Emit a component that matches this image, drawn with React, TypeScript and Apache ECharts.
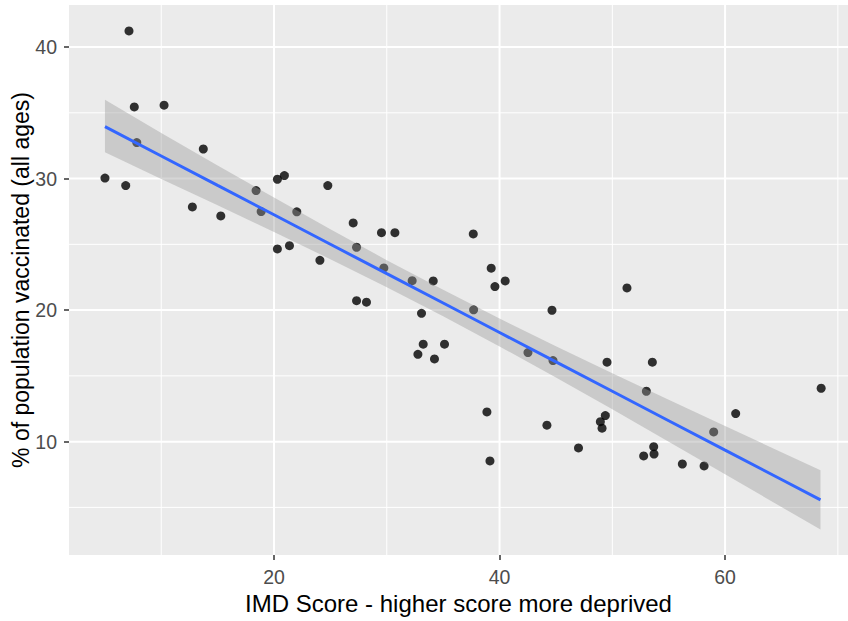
import React, { useEffect, useRef } from "react";
import * as echarts from "echarts";

// IMD score (x) and % of population vaccinated (y) for each area
const imdScore = [
  5.01, 7.14, 6.85, 7.61, 7.83, 10.25, 13.73, 12.76, 15.28, 18.41,
  18.86, 20.3, 20.92, 22.02, 24.77, 20.3, 21.37, 24.07, 27.02, 27.32,
  27.32, 28.2, 29.53, 30.72, 29.74, 32.25, 34.12, 33.08, 33.23, 32.76,
  34.23, 35.12, 37.67, 37.7, 39.26, 39.59, 40.5, 38.88, 42.52, 44.65,
  44.74, 51.3, 49.53, 53.55, 53.02, 68.52, 60.94, 49.38, 48.94, 49.09,
  44.2, 39.15, 47.0, 52.78, 53.67, 53.7, 56.21, 58.14, 58.99,
];
const pctVaccinated = [
  30.04, 41.23, 29.47, 35.45, 32.74, 35.58, 32.25, 27.85, 27.16, 29.09,
  27.49, 29.95, 30.23, 27.47, 29.47, 24.65, 24.9, 23.79, 26.63, 24.78,
  20.72, 20.6, 25.89, 25.89, 23.21, 22.24, 22.22, 19.76, 17.41, 16.64,
  16.29, 17.41, 25.79, 20.02, 23.19, 21.79, 22.22, 12.26, 16.77, 19.99,
  16.16, 21.69, 16.04, 16.04, 13.83, 14.06, 12.13, 11.98, 11.52, 11.02,
  11.25, 8.53, 9.52, 8.91, 9.62, 9.06, 8.3, 8.15, 10.74,
];

// Fitted linear trend with its confidence band
const fitX = [5.01, 10, 15, 20, 25, 30, 35, 40, 45, 50, 55, 60, 65, 68.46];
const fitY = [33.95, 31.72, 29.48, 27.25, 25.01, 22.77, 20.54, 18.3, 16.06, 13.83, 11.59, 9.35, 7.12, 5.57];
const fitUpper = [36.0, 33.47, 31.0, 28.56, 26.15, 23.8, 21.54, 19.36, 17.25, 15.2, 13.18, 11.18, 9.2, 7.83];
const fitLower = [32.0, 29.97, 27.97, 25.94, 23.87, 21.74, 19.54, 17.24, 14.87, 12.46, 10.0, 7.52, 5.03, 3.31];

// Axis ticks and grid lines
const xTicks = [20, 40, 60];
const xMinor = [10, 30, 50, 70];
const yTicks = [10, 20, 30, 40];
const yMinor = [5, 15, 25, 35];
const xRange = [1.82, 70.9];
const yRange = [1.38, 43.2];

const xTitle = "IMD Score - higher score more deprived";
const yTitle = "% of population vaccinated (all ages)";

const FONT = "'Liberation Sans', Arial, Helvetica, sans-serif";

export default function App() {
  const ref = useRef<HTMLDivElement>(null);

  useEffect(() => {
    if (!ref.current) return;
    const chart = echarts.init(ref.current, undefined, { renderer: "svg" });

    const gridSeries: any[] = [];
    const addV = (v: number, w: number) =>
      gridSeries.push({
        type: "line",
        data: [[v, yRange[0]], [v, yRange[1]]],
        showSymbol: false,
        silent: true,
        z: 1,
        lineStyle: { color: "#FFFFFF", width: w },
      });
    const addH = (v: number, w: number) =>
      gridSeries.push({
        type: "line",
        data: [[xRange[0], v], [xRange[1], v]],
        showSymbol: false,
        silent: true,
        z: 1,
        lineStyle: { color: "#FFFFFF", width: w },
      });
    xMinor.forEach((v) => addV(v, 1));
    yMinor.forEach((v) => addH(v, 1));
    xTicks.forEach((v) => addV(v, 2));
    yTicks.forEach((v) => addH(v, 2));

    const option: any = {
      animation: false,
      backgroundColor: "#FFFFFF",
      textStyle: { fontFamily: FONT },
      grid: {
        left: 69,
        right: 0,
        top: 5,
        bottom: 66,
        containLabel: false,
        outerBoundsMode: "none",
        show: true,
        backgroundColor: "#EBEBEB",
        borderWidth: 0,
      },
      xAxis: {
        type: "value",
        min: xRange[0],
        max: xRange[1],
        name: xTitle,
        nameLocation: "middle",
        nameGap: 35,
        nameTextStyle: { color: "#000000", fontSize: 24, fontFamily: FONT },
        axisLine: { show: false },
        axisTick: {
          show: true,
          customValues: xTicks,
          length: 5,
          lineStyle: { color: "#333333", width: 1.5 },
        },
        axisLabel: {
          customValues: xTicks,
          color: "#4D4D4D",
          fontSize: 19.5,
          fontFamily: FONT,
          margin: 12,
        },
        splitLine: { show: false },
      },
      yAxis: {
        type: "value",
        min: yRange[0],
        max: yRange[1],
        name: yTitle,
        nameLocation: "middle",
        nameGap: 37,
        nameMoveOverlap: false,
        nameTextStyle: { color: "#000000", fontSize: 23, fontFamily: FONT },
        axisLine: { show: false },
        axisTick: {
          show: true,
          customValues: yTicks,
          length: 5,
          lineStyle: { color: "#333333", width: 1.5 },
        },
        axisLabel: {
          customValues: yTicks,
          color: "#4D4D4D",
          fontSize: 19.5,
          fontFamily: FONT,
          margin: 12,
        },
        splitLine: { show: false },
      },
      series: [
        ...gridSeries,
        {
          type: "scatter",
          data: imdScore.map((x, i) => [x, pctVaccinated[i]]),
          symbol: "circle",
          symbolSize: 9,
          itemStyle: { color: "#000000" },
          z: 2,
          silent: true,
        },
        {
          type: "custom",
          data: fitX.map((x, i) => [x, fitLower[i], fitUpper[i]]),
          encode: { x: 0, y: [1, 2] },
          z: 3,
          silent: true,
          renderItem: (params: any, api: any) => {
            if (params.dataIndex !== 0) return { type: "group", children: [] };
            const pts: number[][] = [];
            for (let i = 0; i < fitX.length; i++) pts.push(api.coord([fitX[i], fitUpper[i]]));
            for (let i = fitX.length - 1; i >= 0; i--) pts.push(api.coord([fitX[i], fitLower[i]]));
            return {
              type: "polygon",
              shape: { points: pts },
              style: { fill: "rgba(153,153,153,0.4)", stroke: "none" },
            };
          },
        },
        {
          type: "line",
          data: fitX.map((x, i) => [x, fitY[i]]),
          showSymbol: false,
          silent: true,
          z: 4,
          lineStyle: { color: "#3366FF", width: 3 },
        },
      ],
    };

    chart.setOption(option);
    return () => chart.dispose();
  }, []);

  return (
    <div
      ref={ref}
      style={{ position: "fixed", left: 0, top: 0, width: 848, height: 621 }}
    />
  );
}
